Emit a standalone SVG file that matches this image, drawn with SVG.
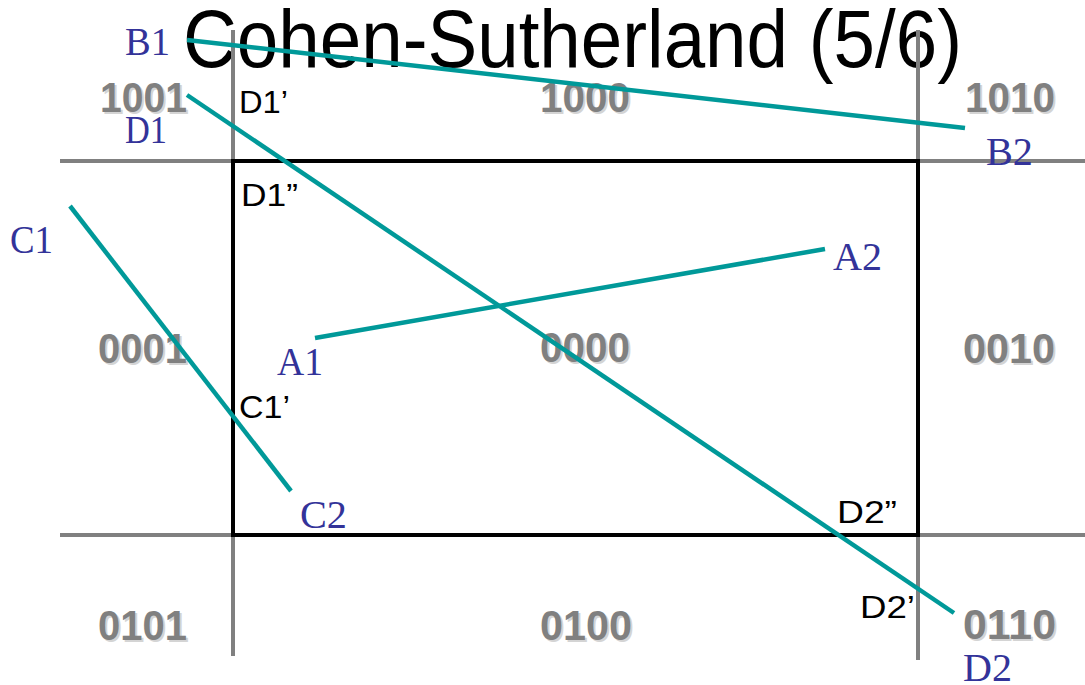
<svg xmlns="http://www.w3.org/2000/svg" width="1085" height="685" viewBox="0 0 1085 685">
<style>
.title{font-family:"Liberation Sans",Arial,sans-serif;font-size:81px;fill:#000}
.code{font-family:"Liberation Sans",Arial,sans-serif;font-weight:bold;font-size:42px;fill:#808080}
.shadow{font-family:"Liberation Sans",Arial,sans-serif;font-weight:bold;font-size:42px;fill:#d4d4d4}
.pt{font-family:"Liberation Serif","Times New Roman",serif;font-size:40px;fill:#333399}
.clip{font-family:"Liberation Sans",Arial,sans-serif;font-size:31px;fill:#000}
.grid{stroke:#808080;stroke-width:4;fill:none}
.win{stroke:#000;stroke-width:4;fill:none}
.seg{stroke:#009999;stroke-width:4.5;fill:none}
</style>
<rect width="1085" height="685" fill="#fff"/>
<g id="title">
<text class="title" x="183" y="67" textLength="779" lengthAdjust="spacingAndGlyphs">Cohen-Sutherland (5/6)</text>
</g>
<g id="grid">
<line class="grid" x1="233" y1="30" x2="233" y2="656"/>
<line class="grid" x1="918" y1="30" x2="918" y2="660"/>
<line class="grid" x1="60" y1="161" x2="1085" y2="161"/>
<line class="grid" x1="60" y1="535" x2="1085" y2="535"/>
</g>
<g id="window">
<rect class="win" x="233" y="161" width="685" height="374"/>
</g>
<g id="codes">
<text class="shadow" x="102" y="114" textLength="87" lengthAdjust="spacingAndGlyphs">1001</text>
<text class="code" x="100" y="112" textLength="87" lengthAdjust="spacingAndGlyphs">1001</text>
<text class="shadow" x="542" y="114" textLength="90" lengthAdjust="spacingAndGlyphs">1000</text>
<text class="code" x="540" y="112" textLength="90" lengthAdjust="spacingAndGlyphs">1000</text>
<text class="shadow" x="967" y="114" textLength="90" lengthAdjust="spacingAndGlyphs">1010</text>
<text class="code" x="965" y="112" textLength="90" lengthAdjust="spacingAndGlyphs">1010</text>
<text class="shadow" x="100" y="365" textLength="89" lengthAdjust="spacingAndGlyphs">0001</text>
<text class="code" x="98" y="363" textLength="89" lengthAdjust="spacingAndGlyphs">0001</text>
<text class="shadow" x="542" y="364" textLength="90" lengthAdjust="spacingAndGlyphs">0000</text>
<text class="code" x="540" y="362" textLength="90" lengthAdjust="spacingAndGlyphs">0000</text>
<text class="shadow" x="965" y="365" textLength="92" lengthAdjust="spacingAndGlyphs">0010</text>
<text class="code" x="963" y="363" textLength="92" lengthAdjust="spacingAndGlyphs">0010</text>
<text class="shadow" x="100" y="642" textLength="89" lengthAdjust="spacingAndGlyphs">0101</text>
<text class="code" x="98" y="640" textLength="89" lengthAdjust="spacingAndGlyphs">0101</text>
<text class="shadow" x="542" y="642" textLength="92" lengthAdjust="spacingAndGlyphs">0100</text>
<text class="code" x="540" y="640" textLength="92" lengthAdjust="spacingAndGlyphs">0100</text>
<text class="shadow" x="965" y="641" textLength="93" lengthAdjust="spacingAndGlyphs">0110</text>
<text class="code" x="963" y="639" textLength="93" lengthAdjust="spacingAndGlyphs">0110</text>
</g>
<g id="connectors">
<line class="seg" x1="187" y1="40" x2="965" y2="128"/>
<line class="seg" x1="187" y1="95" x2="954" y2="613"/>
<line class="seg" x1="70" y1="206" x2="291" y2="491"/>
<line class="seg" x1="315" y1="338" x2="825" y2="249"/>
</g>
<g id="points">
<text class="pt" x="125" y="55" textLength="45" lengthAdjust="spacingAndGlyphs">B1</text>
<text class="pt" x="986" y="165" textLength="47" lengthAdjust="spacingAndGlyphs">B2</text>
<text class="pt" x="125" y="143" textLength="42" lengthAdjust="spacingAndGlyphs">D1</text>
<text class="pt" x="963" y="681" textLength="49" lengthAdjust="spacingAndGlyphs">D2</text>
<text class="pt" x="10" y="253" textLength="43" lengthAdjust="spacingAndGlyphs">C1</text>
<text class="pt" x="300" y="528" textLength="47" lengthAdjust="spacingAndGlyphs">C2</text>
<text class="pt" x="277" y="375" textLength="46" lengthAdjust="spacingAndGlyphs">A1</text>
<text class="pt" x="833" y="270" textLength="49" lengthAdjust="spacingAndGlyphs">A2</text>
</g>
<g id="clip-points">
<text class="clip" x="239" y="113" textLength="49" lengthAdjust="spacingAndGlyphs">D1’</text>
<text class="clip" x="241" y="206" textLength="57" lengthAdjust="spacingAndGlyphs">D1”</text>
<text class="clip" x="239" y="418" textLength="51" lengthAdjust="spacingAndGlyphs">C1’</text>
<text class="clip" x="837" y="523" textLength="60" lengthAdjust="spacingAndGlyphs">D2”</text>
<text class="clip" x="860" y="618" textLength="55" lengthAdjust="spacingAndGlyphs">D2’</text>
</g>
</svg>
